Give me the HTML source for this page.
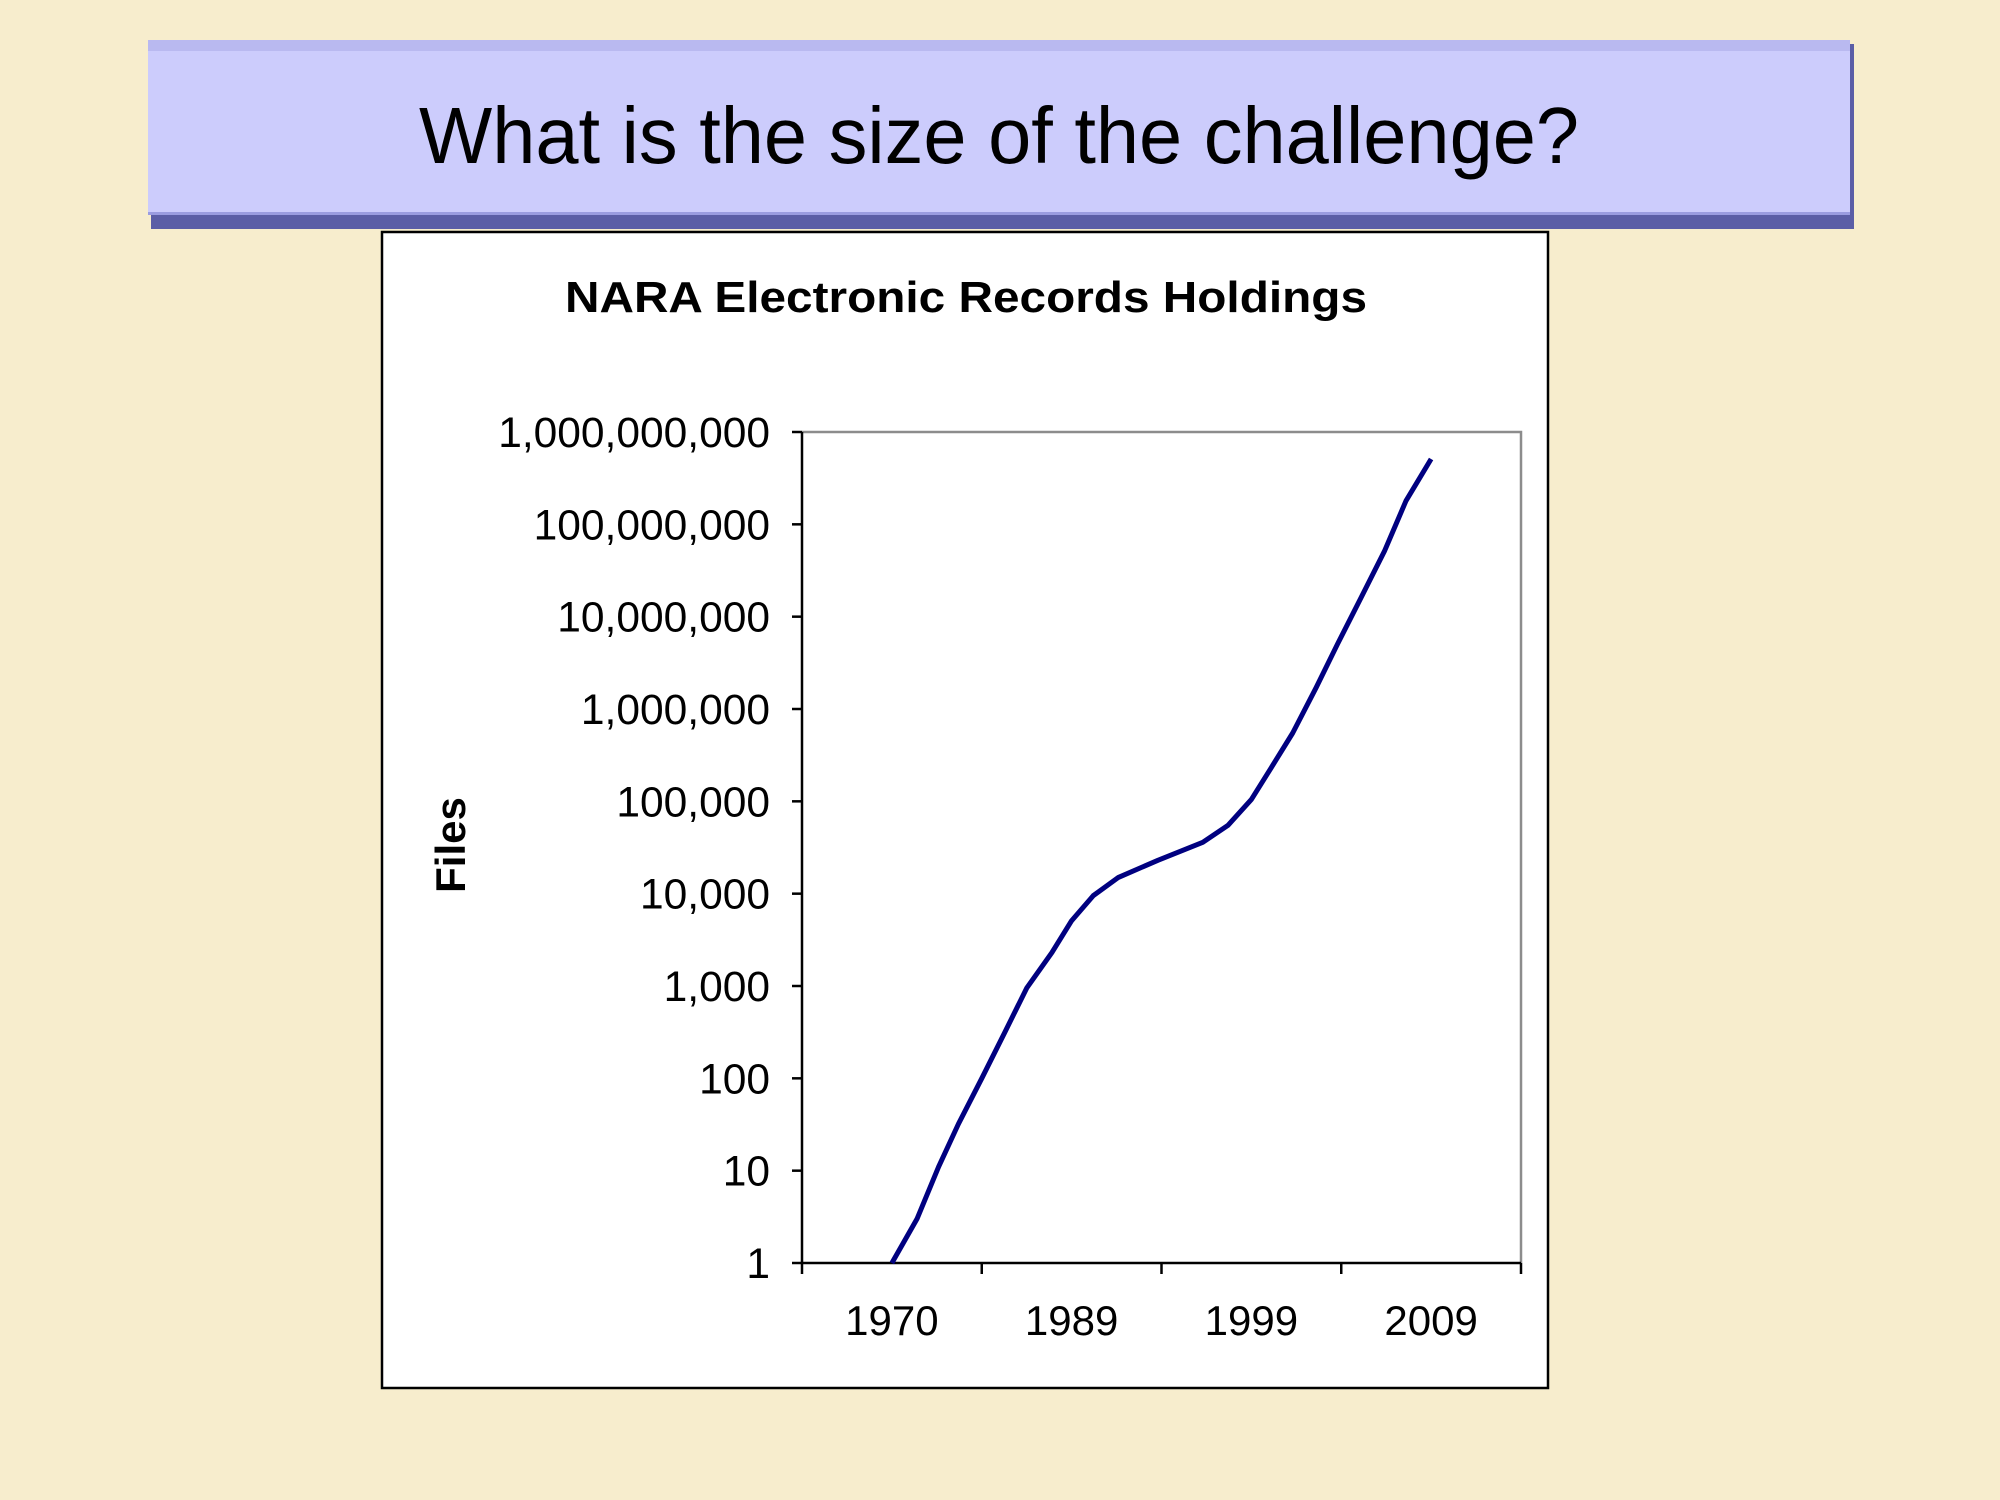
<!DOCTYPE html>
<html><head><meta charset="utf-8"><style>
html,body{margin:0;padding:0;width:2000px;height:1500px;overflow:hidden;background:#f7edcd;}
svg{display:block}
</style></head><body>
<svg width="2000" height="1500" xmlns="http://www.w3.org/2000/svg">
<rect x="0" y="0" width="2000" height="1500" fill="#f7edcd"/>
<g>
<rect x="151" y="44" width="1703" height="185" fill="#5b5ea6"/>
<rect x="148" y="40" width="1702" height="12" fill="#b9b9f0"/>
<rect x="148" y="51" width="1702" height="162" fill="#ccccfc"/>
<rect x="148" y="212" width="1702" height="3" fill="#9a9ce0"/>
</g>
<text x="999" y="163" text-anchor="middle" font-family="Liberation Sans, sans-serif" font-size="80" textLength="1160" lengthAdjust="spacingAndGlyphs" fill="#000">What is the size of the challenge?</text>
<rect x="382" y="232" width="1166" height="1156" fill="#fff" stroke="#000" stroke-width="2.5"/>
<text x="966" y="312" text-anchor="middle" font-family="Liberation Sans, sans-serif" font-weight="bold" font-size="44" textLength="802" lengthAdjust="spacingAndGlyphs">NARA Electronic Records Holdings</text>
<text transform="translate(465,845) rotate(-90)" text-anchor="middle" font-family="Liberation Sans, sans-serif" font-weight="bold" font-size="42">Files</text>
<g id="chart"></g>
</svg>
<script>
const categories = ["1970","1989","1999","2009"];
const yTickLabels = ["1","10","100","1,000","10,000","100,000","1,000,000","10,000,000","100,000,000","1,000,000,000"];
const seriesX = [0,0.14,0.26,0.37,0.50,0.63,0.75,0.89,1.00,1.12,1.26,1.48,1.73,1.87,2.00,2.11,2.23,2.36,2.48,2.61,2.74,2.86,3.00];
const seriesValues = [1,3,11,32,100,320,950,2300,5100,9500,15000,23000,36000,55000,105000,230000,550000,1700000,5100000,16000000,51000000,180000000,510000000];

const NS="http://www.w3.org/2000/svg";
const g=document.getElementById('chart');
const L=802,R=1521,T=432,B=1263;
const catW=(R-L)/categories.length;
const xCat=u=>L+catW*(u+0.5);
const yLog=v=>B-(Math.log10(v)/(yTickLabels.length-1))*(B-T);
function mk(tag,attrs){const e=document.createElementNS(NS,tag);for(const k in attrs)e.setAttribute(k,attrs[k]);g.appendChild(e);return e;}
const border=mk('path',{d:`M${L},${T} H${R} V${B}`,fill:'none',stroke:'#8c8c8c','stroke-width':2.5});


const yAxis=mk('line',{x1:L,y1:T,x2:L,y2:B+1,stroke:'#000','stroke-width':2.5});


const xAxis=mk('line',{x1:L,y1:B,x2:R,y2:B,stroke:'#000','stroke-width':2.5});


yTickLabels.forEach((lab,i)=>{
  const y=yLog(Math.pow(10,i));
  const t=mk('line',{x1:L-10,y1:y,x2:L,y2:y,stroke:'#000','stroke-width':2.5});
  
  
  const tx=mk('text',{x:770,y:y+15,'text-anchor':'end','font-family':'Liberation Sans, sans-serif','font-size':42.5});
  tx.textContent=lab;
  
  
});
for(let i=0;i<=categories.length;i++){
  const x=L+catW*i;
  const t=mk('line',{x1:x,y1:B,x2:x,y2:B+11,stroke:'#000','stroke-width':2.5});
  
  
}
categories.forEach((c,i)=>{
  const tx=mk('text',{x:xCat(i),y:1335,'text-anchor':'middle','font-family':'Liberation Sans, sans-serif','font-size':42});
  tx.textContent=c;
  
  
});
const pts=seriesX.map((u,i)=>xCat(u).toFixed(1)+','+yLog(seriesValues[i]).toFixed(1)).join(' ');
const line=mk('polyline',{points:pts,fill:'none',stroke:'#000080','stroke-width':5,'stroke-linejoin':'round'});


</script>
</body></html>
